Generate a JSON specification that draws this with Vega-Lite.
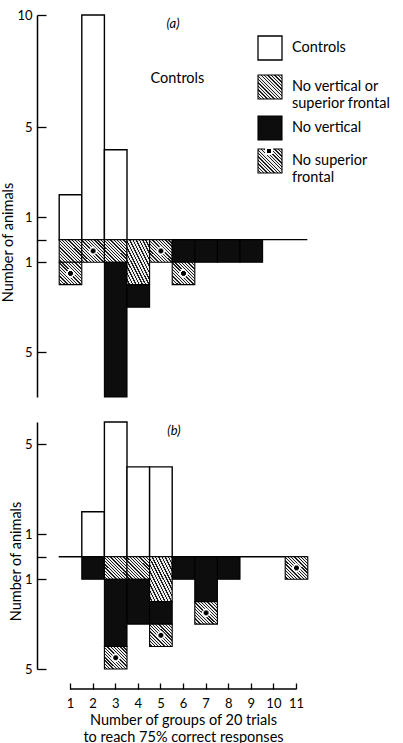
{
  "$schema": "https://vega.github.io/schema/vega-lite/v6.json",
  "padding": {"left": 0, "top": 9, "right": 0, "bottom": 0},
  "config": {
    "font": "Lato",
    "view": {"stroke": null},
    "axis": {"grid": false, "domainColor": "black", "domainWidth": 1.5, "tickColor": "black", "tickWidth": 1.3, "labelColor": "black", "labelFont": "Lato", "labelFontSize": 13, "titleFont": "Lato", "titleFontSize": 14.5, "titleFontWeight": "normal", "titleColor": "black"},
    "legend": {"labelFont": "Lato", "labelColor": "black"}
  },
  "datasets": {
    "counts": [
      {"panel": "a", "group": "Controls", "trials": 1, "animals": 2},
      {"panel": "a", "group": "Controls", "trials": 2, "animals": 10},
      {"panel": "a", "group": "Controls", "trials": 3, "animals": 4},
      {"panel": "a", "group": "No vertical or superior frontal", "trials": 1, "animals": 1},
      {"panel": "a", "group": "No superior frontal", "trials": 1, "animals": 1},
      {"panel": "a", "group": "No superior frontal", "trials": 2, "animals": 1},
      {"panel": "a", "group": "No vertical or superior frontal", "trials": 3, "animals": 1},
      {"panel": "a", "group": "No vertical", "trials": 3, "animals": 6},
      {"panel": "a", "group": "No vertical or superior frontal", "trials": 4, "animals": 2},
      {"panel": "a", "group": "No vertical", "trials": 4, "animals": 1},
      {"panel": "a", "group": "No superior frontal", "trials": 5, "animals": 1},
      {"panel": "a", "group": "No vertical", "trials": 6, "animals": 1},
      {"panel": "a", "group": "No superior frontal", "trials": 6, "animals": 1},
      {"panel": "a", "group": "No vertical", "trials": 7, "animals": 1},
      {"panel": "a", "group": "No vertical", "trials": 8, "animals": 1},
      {"panel": "a", "group": "No vertical", "trials": 9, "animals": 1},
      {"panel": "b", "group": "Controls", "trials": 2, "animals": 2},
      {"panel": "b", "group": "Controls", "trials": 3, "animals": 6},
      {"panel": "b", "group": "Controls", "trials": 4, "animals": 4},
      {"panel": "b", "group": "Controls", "trials": 5, "animals": 4},
      {"panel": "b", "group": "No vertical", "trials": 2, "animals": 1},
      {"panel": "b", "group": "No vertical or superior frontal", "trials": 3, "animals": 1},
      {"panel": "b", "group": "No vertical", "trials": 3, "animals": 3},
      {"panel": "b", "group": "No superior frontal", "trials": 3, "animals": 1},
      {"panel": "b", "group": "No vertical or superior frontal", "trials": 4, "animals": 1},
      {"panel": "b", "group": "No vertical", "trials": 4, "animals": 2},
      {"panel": "b", "group": "No vertical or superior frontal", "trials": 5, "animals": 2},
      {"panel": "b", "group": "No vertical", "trials": 5, "animals": 1},
      {"panel": "b", "group": "No superior frontal", "trials": 5, "animals": 1},
      {"panel": "b", "group": "No vertical", "trials": 6, "animals": 1},
      {"panel": "b", "group": "No vertical", "trials": 7, "animals": 2},
      {"panel": "b", "group": "No superior frontal", "trials": 7, "animals": 1},
      {"panel": "b", "group": "No vertical", "trials": 8, "animals": 1},
      {"panel": "b", "group": "No superior frontal", "trials": 11, "animals": 1}
    ]
  },
  "data": {"name": "counts"},
  "spacing": 23,
  "resolve": {"scale": {"fill": "independent"}, "legend": {"fill": "independent"}},
  "vconcat": [
    {
      "width": 226,
      "height": 382,
      "resolve": {"scale": {"y": "independent", "fill": "independent"}, "legend": {"fill": "independent"}},
      "layer": [
        {
          "layer": [
            {
              "transform": [{"filter": "datum.panel == 'a' && datum.group == 'Controls'"}],
              "mark": {"type": "bar", "stroke": "black", "strokeWidth": 1.4, "binSpacing": 0, "clip": false},
              "encoding": {
                "x": {"field": "trials", "type": "quantitative", "bin": {"step": 1, "extent": [0.5, 11.5], "nice": false, "anchor": 0.5}, "scale": {"domain": [1, 11], "nice": false, "zero": false}, "axis": null},
                "y": {"field": "animals", "type": "quantitative", "scale": {"domain": [-7, 10], "nice": false, "zero": false},
                  "axis": {"values": [10, 5, 1, 0, -1, -5], "labelExpr": "datum.value == 0 ? '' : '' + abs(datum.value)", "tickSize": -9, "labelPadding": 14, "offset": 33, "title": "Number of animals", "titleY": 227, "titlePadding": 1}},
                "fill": {"field": "group", "type": "nominal", "scale": {"domain": ["Controls"], "range": ["white"]},
                  "legend": {"orient": "none", "legendX": 187, "legendY": 20, "title": null, "symbolType": "square", "symbolSize": 576, "symbolStrokeColor": "black", "symbolStrokeWidth": 1.3, "labelFontSize": 14.5, "labelOffset": 9, "padding": 0}}
              }
            },
            {
              "data": {"values": [{}]},
              "mark": {"type": "rule", "stroke": "black", "strokeWidth": 1.3},
              "encoding": {
                "x": {"datum": 0.5, "type": "quantitative", "scale": {"domain": [1, 11]}, "axis": null},
                "x2": {"datum": 11.5},
                "y": {"datum": 0, "type": "quantitative", "scale": {"domain": [-7, 10]}}
              }
            },
            {
              "data": {"values": [{}]},
              "mark": {"type": "text", "fontSize": 14.5, "font": "Lato", "color": "black"},
              "encoding": {
                "x": {"datum": 5.75, "type": "quantitative", "scale": {"domain": [1, 11]}, "axis": null},
                "y": {"datum": 7.15, "type": "quantitative", "scale": {"domain": [-7, 10]}},
                "text": {"value": "Controls"}
              }
            },
            {
              "data": {"values": [{}]},
              "mark": {"type": "text", "fontSize": 13, "font": "Lato", "fontStyle": "italic", "color": "black"},
              "encoding": {
                "x": {"datum": 5.56, "type": "quantitative", "scale": {"domain": [1, 11]}, "axis": null},
                "y": {"datum": 9.6, "type": "quantitative", "scale": {"domain": [-7, 10]}},
                "text": {"value": "(a)"}
              }
            }
          ]
        },
        {
          "resolve": {"scale": {"fill": "independent"}, "legend": {"fill": "independent"}},
          "transform": [
            {"filter": "datum.panel == 'a' && datum.group != 'Controls'"},
            {"stack": "animals", "groupby": ["trials"], "sort": [{"field": "group", "order": "descending"}], "as": ["lo", "hi"]}
          ],
          "layer": [
            {
              "mark": {"type": "bar", "stroke": "black", "strokeWidth": 1.1, "binSpacing": 0, "clip": false},
              "encoding": {
                "x": {"field": "trials", "type": "quantitative", "bin": {"step": 1, "extent": [0.5, 11.5], "nice": false, "anchor": 0.5}, "scale": {"domain": [1, 11], "nice": false, "zero": false}, "axis": null},
                "y": {"field": "lo", "type": "quantitative", "scale": {"domain": [-10, 7], "reverse": true, "nice": false, "zero": false}, "axis": null},
                "y2": {"field": "hi"},
                "fill": {"field": "group", "type": "nominal",
                  "scale": {"domain": ["No vertical or superior frontal", "No vertical", "No superior frontal"],
                    "range": [
                      {"expr": "{gradient: 'linear', x1: 0, y1: 1, x2: 1, y2: 0, stops: [{offset: 0, color: '#ececec'}, {offset: 0.0429, color: '#ececec'}, {offset: 0.0429, color: '#1e1e1e'}, {offset: 0.0714, color: '#1e1e1e'}, {offset: 0.0714, color: '#ececec'}, {offset: 0.1143, color: '#ececec'}, {offset: 0.1143, color: '#1e1e1e'}, {offset: 0.1429, color: '#1e1e1e'}, {offset: 0.1429, color: '#ececec'}, {offset: 0.1857, color: '#ececec'}, {offset: 0.1857, color: '#1e1e1e'}, {offset: 0.2143, color: '#1e1e1e'}, {offset: 0.2143, color: '#ececec'}, {offset: 0.2571, color: '#ececec'}, {offset: 0.2571, color: '#1e1e1e'}, {offset: 0.2857, color: '#1e1e1e'}, {offset: 0.2857, color: '#ececec'}, {offset: 0.3286, color: '#ececec'}, {offset: 0.3286, color: '#1e1e1e'}, {offset: 0.3571, color: '#1e1e1e'}, {offset: 0.3571, color: '#ececec'}, {offset: 0.4, color: '#ececec'}, {offset: 0.4, color: '#1e1e1e'}, {offset: 0.4286, color: '#1e1e1e'}, {offset: 0.4286, color: '#ececec'}, {offset: 0.4714, color: '#ececec'}, {offset: 0.4714, color: '#1e1e1e'}, {offset: 0.5, color: '#1e1e1e'}, {offset: 0.5, color: '#ececec'}, {offset: 0.5429, color: '#ececec'}, {offset: 0.5429, color: '#1e1e1e'}, {offset: 0.5714, color: '#1e1e1e'}, {offset: 0.5714, color: '#ececec'}, {offset: 0.6143, color: '#ececec'}, {offset: 0.6143, color: '#1e1e1e'}, {offset: 0.6429, color: '#1e1e1e'}, {offset: 0.6429, color: '#ececec'}, {offset: 0.6857, color: '#ececec'}, {offset: 0.6857, color: '#1e1e1e'}, {offset: 0.7143, color: '#1e1e1e'}, {offset: 0.7143, color: '#ececec'}, {offset: 0.7571, color: '#ececec'}, {offset: 0.7571, color: '#1e1e1e'}, {offset: 0.7857, color: '#1e1e1e'}, {offset: 0.7857, color: '#ececec'}, {offset: 0.8286, color: '#ececec'}, {offset: 0.8286, color: '#1e1e1e'}, {offset: 0.8571, color: '#1e1e1e'}, {offset: 0.8571, color: '#ececec'}, {offset: 0.9, color: '#ececec'}, {offset: 0.9, color: '#1e1e1e'}, {offset: 0.9286, color: '#1e1e1e'}, {offset: 0.9286, color: '#ececec'}, {offset: 0.9714, color: '#ececec'}, {offset: 0.9714, color: '#1e1e1e'}, {offset: 1, color: '#1e1e1e'}]}"},
                      "#0d0d0d",
                      {"expr": "{gradient: 'linear', x1: 0, y1: 1, x2: 1, y2: 0, stops: [{offset: 0, color: '#ececec'}, {offset: 0.0429, color: '#ececec'}, {offset: 0.0429, color: '#1e1e1e'}, {offset: 0.0714, color: '#1e1e1e'}, {offset: 0.0714, color: '#ececec'}, {offset: 0.1143, color: '#ececec'}, {offset: 0.1143, color: '#1e1e1e'}, {offset: 0.1429, color: '#1e1e1e'}, {offset: 0.1429, color: '#ececec'}, {offset: 0.1857, color: '#ececec'}, {offset: 0.1857, color: '#1e1e1e'}, {offset: 0.2143, color: '#1e1e1e'}, {offset: 0.2143, color: '#ececec'}, {offset: 0.2571, color: '#ececec'}, {offset: 0.2571, color: '#1e1e1e'}, {offset: 0.2857, color: '#1e1e1e'}, {offset: 0.2857, color: '#ececec'}, {offset: 0.3286, color: '#ececec'}, {offset: 0.3286, color: '#1e1e1e'}, {offset: 0.3571, color: '#1e1e1e'}, {offset: 0.3571, color: '#ececec'}, {offset: 0.4, color: '#ececec'}, {offset: 0.4, color: '#1e1e1e'}, {offset: 0.4286, color: '#1e1e1e'}, {offset: 0.4286, color: '#ececec'}, {offset: 0.4714, color: '#ececec'}, {offset: 0.4714, color: '#1e1e1e'}, {offset: 0.5, color: '#1e1e1e'}, {offset: 0.5, color: '#ececec'}, {offset: 0.5429, color: '#ececec'}, {offset: 0.5429, color: '#1e1e1e'}, {offset: 0.5714, color: '#1e1e1e'}, {offset: 0.5714, color: '#ececec'}, {offset: 0.6143, color: '#ececec'}, {offset: 0.6143, color: '#1e1e1e'}, {offset: 0.6429, color: '#1e1e1e'}, {offset: 0.6429, color: '#ececec'}, {offset: 0.6857, color: '#ececec'}, {offset: 0.6857, color: '#1e1e1e'}, {offset: 0.7143, color: '#1e1e1e'}, {offset: 0.7143, color: '#ececec'}, {offset: 0.7571, color: '#ececec'}, {offset: 0.7571, color: '#1e1e1e'}, {offset: 0.7857, color: '#1e1e1e'}, {offset: 0.7857, color: '#ececec'}, {offset: 0.8286, color: '#ececec'}, {offset: 0.8286, color: '#1e1e1e'}, {offset: 0.8571, color: '#1e1e1e'}, {offset: 0.8571, color: '#ececec'}, {offset: 0.9, color: '#ececec'}, {offset: 0.9, color: '#1e1e1e'}, {offset: 0.9286, color: '#1e1e1e'}, {offset: 0.9286, color: '#ececec'}, {offset: 0.9714, color: '#ececec'}, {offset: 0.9714, color: '#1e1e1e'}, {offset: 1, color: '#1e1e1e'}]}"}
                    ]},
                  "legend": {"orient": "none", "legendX": 187, "legendY": 59, "title": null, "symbolType": "square", "symbolSize": 576, "symbolStrokeColor": "black", "symbolStrokeWidth": 1.1, "labelFontSize": 14.5, "labelOffset": 9, "padding": 0, "rowPadding": 3,
                    "labelExpr": "datum.label == 'No vertical or superior frontal' ? ['No vertical or', 'superior frontal'] : datum.label == 'No superior frontal' ? ['No superior', '\u2002\u2002\u2002frontal'] : datum.label"}
                }
              }
            },
            {
              "transform": [{"filter": "datum.group == 'No superior frontal'"}],
              "mark": {"type": "bar", "strokeWidth": 0, "binSpacing": 0, "clip": false},
              "encoding": {
                "x": {"field": "trials", "type": "quantitative", "bin": {"step": 1, "extent": [0.5, 11.5], "nice": false, "anchor": 0.5}, "scale": {"domain": [1, 11], "nice": false, "zero": false}, "axis": null},
                "y": {"field": "lo", "type": "quantitative", "scale": {"domain": [-10, 7], "reverse": true, "nice": false, "zero": false}, "axis": null},
                "y2": {"field": "hi"},
                "fill": {"field": "group", "type": "nominal",
                  "scale": {"domain": ["No vertical or superior frontal", "No vertical", "No superior frontal"],
                    "range": ["rgba(0,0,0,0)", "rgba(0,0,0,0)",
                      {"expr": "{gradient: 'radial', x1: 0.5, y1: 0.5, r1: 0, x2: 0.5, y2: 0.5, r2: 0.5, stops: [{offset: 0, color: '#000'}, {offset: 0.2, color: '#000'}, {offset: 0.2, color: '#fff'}, {offset: 0.36, color: '#fff'}, {offset: 0.36, color: 'rgba(255,255,255,0)'}, {offset: 1, color: 'rgba(255,255,255,0)'}]}"}
                    ]},
                  "legend": {"orient": "none", "legendX": 187, "legendY": 59, "title": null, "symbolType": "square", "symbolSize": 576, "symbolStrokeColor": "rgba(0,0,0,0)", "symbolStrokeWidth": 0, "labelFontSize": 14.5, "labelOffset": 9, "padding": 0, "rowPadding": 3, "labelColor": "rgba(0,0,0,0)",
                    "labelExpr": "datum.label == 'No vertical or superior frontal' || datum.label == 'No superior frontal' ? ['\u00a0', '\u00a0'] : '\u00a0'"}
                }
              }
            }
          ]
        }
      ]
    },
    {
      "width": 226,
      "height": 247,
      "resolve": {"scale": {"y": "independent", "fill": "independent"}, "legend": {"fill": "independent"}},
      "layer": [
        {
          "layer": [
            {
              "transform": [{"filter": "datum.panel == 'b' && datum.group == 'Controls'"}],
              "mark": {"type": "bar", "stroke": "black", "strokeWidth": 1.4, "binSpacing": 0, "clip": false, "fill": "white"},
              "encoding": {
                "x": {"field": "trials", "type": "quantitative", "bin": {"step": 1, "extent": [0.5, 11.5], "nice": false, "anchor": 0.5}, "scale": {"domain": [1, 11], "nice": false, "zero": false},
                  "axis": {"values": [1, 2, 3, 4, 5, 6, 7, 8, 9, 10, 11], "labelExpr": "'' + datum.value", "domain": false, "tickSize": -6, "labelPadding": 14, "offset": 20, "labelFlush": false, "labelOverlap": false, "title": ["Number of groups of 20 trials", "to reach 75% correct responses"], "titleLineHeight": 17, "titlePadding": 3}},
                "y": {"field": "animals", "type": "quantitative", "scale": {"domain": [-5, 6], "nice": false, "zero": false},
                  "axis": {"values": [5, 1, 0, -1, -5], "labelExpr": "datum.value == 0 ? '' : '' + abs(datum.value)", "tickSize": -9, "labelPadding": 14, "offset": 33, "title": "Number of animals", "titleY": 139, "titlePadding": 1}}
              }
            },
            {
              "data": {"values": [{}]},
              "mark": {"type": "rule", "stroke": "black", "strokeWidth": 1.3},
              "encoding": {
                "x": {"datum": 0.5, "type": "quantitative", "scale": {"domain": [1, 11]}},
                "x2": {"datum": 11.5},
                "y": {"datum": 0, "type": "quantitative", "scale": {"domain": [-5, 6]}}
              }
            },
            {
              "data": {"values": [{}]},
              "mark": {"type": "rule", "stroke": "black", "strokeWidth": 1.5, "clip": false},
              "encoding": {
                "x": {"datum": 1, "type": "quantitative", "scale": {"domain": [1, 11]}},
                "x2": {"datum": 11},
                "y": {"datum": -5.89, "type": "quantitative", "scale": {"domain": [-5, 6]}}
              }
            },
            {
              "data": {"values": [{}]},
              "mark": {"type": "text", "fontSize": 13, "font": "Lato", "fontStyle": "italic", "color": "black"},
              "encoding": {
                "x": {"datum": 5.6, "type": "quantitative", "scale": {"domain": [1, 11]}},
                "y": {"datum": 5.6, "type": "quantitative", "scale": {"domain": [-5, 6]}},
                "text": {"value": "(b)"}
              }
            }
          ]
        },
        {
          "resolve": {"scale": {"fill": "independent"}, "legend": {"fill": "independent"}},
          "transform": [
            {"filter": "datum.panel == 'b' && datum.group != 'Controls'"},
            {"stack": "animals", "groupby": ["trials"], "sort": [{"field": "group", "order": "descending"}], "as": ["lo", "hi"]}
          ],
          "layer": [
            {
              "mark": {"type": "bar", "stroke": "black", "strokeWidth": 1.1, "binSpacing": 0, "clip": false},
              "encoding": {
                "x": {"field": "trials", "type": "quantitative", "bin": {"step": 1, "extent": [0.5, 11.5], "nice": false, "anchor": 0.5}, "scale": {"domain": [1, 11], "nice": false, "zero": false}},
                "y": {"field": "lo", "type": "quantitative", "scale": {"domain": [-6, 5], "reverse": true, "nice": false, "zero": false}, "axis": null},
                "y2": {"field": "hi"},
                "fill": {"field": "group", "type": "nominal",
                  "scale": {"domain": ["No vertical or superior frontal", "No vertical", "No superior frontal"],
                    "range": [
                      {"expr": "{gradient: 'linear', x1: 0, y1: 1, x2: 1, y2: 0, stops: [{offset: 0, color: '#ececec'}, {offset: 0.0429, color: '#ececec'}, {offset: 0.0429, color: '#1e1e1e'}, {offset: 0.0714, color: '#1e1e1e'}, {offset: 0.0714, color: '#ececec'}, {offset: 0.1143, color: '#ececec'}, {offset: 0.1143, color: '#1e1e1e'}, {offset: 0.1429, color: '#1e1e1e'}, {offset: 0.1429, color: '#ececec'}, {offset: 0.1857, color: '#ececec'}, {offset: 0.1857, color: '#1e1e1e'}, {offset: 0.2143, color: '#1e1e1e'}, {offset: 0.2143, color: '#ececec'}, {offset: 0.2571, color: '#ececec'}, {offset: 0.2571, color: '#1e1e1e'}, {offset: 0.2857, color: '#1e1e1e'}, {offset: 0.2857, color: '#ececec'}, {offset: 0.3286, color: '#ececec'}, {offset: 0.3286, color: '#1e1e1e'}, {offset: 0.3571, color: '#1e1e1e'}, {offset: 0.3571, color: '#ececec'}, {offset: 0.4, color: '#ececec'}, {offset: 0.4, color: '#1e1e1e'}, {offset: 0.4286, color: '#1e1e1e'}, {offset: 0.4286, color: '#ececec'}, {offset: 0.4714, color: '#ececec'}, {offset: 0.4714, color: '#1e1e1e'}, {offset: 0.5, color: '#1e1e1e'}, {offset: 0.5, color: '#ececec'}, {offset: 0.5429, color: '#ececec'}, {offset: 0.5429, color: '#1e1e1e'}, {offset: 0.5714, color: '#1e1e1e'}, {offset: 0.5714, color: '#ececec'}, {offset: 0.6143, color: '#ececec'}, {offset: 0.6143, color: '#1e1e1e'}, {offset: 0.6429, color: '#1e1e1e'}, {offset: 0.6429, color: '#ececec'}, {offset: 0.6857, color: '#ececec'}, {offset: 0.6857, color: '#1e1e1e'}, {offset: 0.7143, color: '#1e1e1e'}, {offset: 0.7143, color: '#ececec'}, {offset: 0.7571, color: '#ececec'}, {offset: 0.7571, color: '#1e1e1e'}, {offset: 0.7857, color: '#1e1e1e'}, {offset: 0.7857, color: '#ececec'}, {offset: 0.8286, color: '#ececec'}, {offset: 0.8286, color: '#1e1e1e'}, {offset: 0.8571, color: '#1e1e1e'}, {offset: 0.8571, color: '#ececec'}, {offset: 0.9, color: '#ececec'}, {offset: 0.9, color: '#1e1e1e'}, {offset: 0.9286, color: '#1e1e1e'}, {offset: 0.9286, color: '#ececec'}, {offset: 0.9714, color: '#ececec'}, {offset: 0.9714, color: '#1e1e1e'}, {offset: 1, color: '#1e1e1e'}]}"},
                      "#0d0d0d",
                      {"expr": "{gradient: 'linear', x1: 0, y1: 1, x2: 1, y2: 0, stops: [{offset: 0, color: '#ececec'}, {offset: 0.0429, color: '#ececec'}, {offset: 0.0429, color: '#1e1e1e'}, {offset: 0.0714, color: '#1e1e1e'}, {offset: 0.0714, color: '#ececec'}, {offset: 0.1143, color: '#ececec'}, {offset: 0.1143, color: '#1e1e1e'}, {offset: 0.1429, color: '#1e1e1e'}, {offset: 0.1429, color: '#ececec'}, {offset: 0.1857, color: '#ececec'}, {offset: 0.1857, color: '#1e1e1e'}, {offset: 0.2143, color: '#1e1e1e'}, {offset: 0.2143, color: '#ececec'}, {offset: 0.2571, color: '#ececec'}, {offset: 0.2571, color: '#1e1e1e'}, {offset: 0.2857, color: '#1e1e1e'}, {offset: 0.2857, color: '#ececec'}, {offset: 0.3286, color: '#ececec'}, {offset: 0.3286, color: '#1e1e1e'}, {offset: 0.3571, color: '#1e1e1e'}, {offset: 0.3571, color: '#ececec'}, {offset: 0.4, color: '#ececec'}, {offset: 0.4, color: '#1e1e1e'}, {offset: 0.4286, color: '#1e1e1e'}, {offset: 0.4286, color: '#ececec'}, {offset: 0.4714, color: '#ececec'}, {offset: 0.4714, color: '#1e1e1e'}, {offset: 0.5, color: '#1e1e1e'}, {offset: 0.5, color: '#ececec'}, {offset: 0.5429, color: '#ececec'}, {offset: 0.5429, color: '#1e1e1e'}, {offset: 0.5714, color: '#1e1e1e'}, {offset: 0.5714, color: '#ececec'}, {offset: 0.6143, color: '#ececec'}, {offset: 0.6143, color: '#1e1e1e'}, {offset: 0.6429, color: '#1e1e1e'}, {offset: 0.6429, color: '#ececec'}, {offset: 0.6857, color: '#ececec'}, {offset: 0.6857, color: '#1e1e1e'}, {offset: 0.7143, color: '#1e1e1e'}, {offset: 0.7143, color: '#ececec'}, {offset: 0.7571, color: '#ececec'}, {offset: 0.7571, color: '#1e1e1e'}, {offset: 0.7857, color: '#1e1e1e'}, {offset: 0.7857, color: '#ececec'}, {offset: 0.8286, color: '#ececec'}, {offset: 0.8286, color: '#1e1e1e'}, {offset: 0.8571, color: '#1e1e1e'}, {offset: 0.8571, color: '#ececec'}, {offset: 0.9, color: '#ececec'}, {offset: 0.9, color: '#1e1e1e'}, {offset: 0.9286, color: '#1e1e1e'}, {offset: 0.9286, color: '#ececec'}, {offset: 0.9714, color: '#ececec'}, {offset: 0.9714, color: '#1e1e1e'}, {offset: 1, color: '#1e1e1e'}]}"}
                    ]},
                  "legend": null}
              }
            },
            {
              "transform": [{"filter": "datum.group == 'No superior frontal'"}],
              "mark": {"type": "bar", "strokeWidth": 0, "binSpacing": 0, "clip": false},
              "encoding": {
                "x": {"field": "trials", "type": "quantitative", "bin": {"step": 1, "extent": [0.5, 11.5], "nice": false, "anchor": 0.5}, "scale": {"domain": [1, 11], "nice": false, "zero": false}},
                "y": {"field": "lo", "type": "quantitative", "scale": {"domain": [-6, 5], "reverse": true, "nice": false, "zero": false}, "axis": null},
                "y2": {"field": "hi"},
                "fill": {"field": "group", "type": "nominal",
                  "scale": {"domain": ["No vertical or superior frontal", "No vertical", "No superior frontal"],
                    "range": ["rgba(0,0,0,0)", "rgba(0,0,0,0)",
                      {"expr": "{gradient: 'radial', x1: 0.5, y1: 0.5, r1: 0, x2: 0.5, y2: 0.5, r2: 0.5, stops: [{offset: 0, color: '#000'}, {offset: 0.2, color: '#000'}, {offset: 0.2, color: '#fff'}, {offset: 0.36, color: '#fff'}, {offset: 0.36, color: 'rgba(255,255,255,0)'}, {offset: 1, color: 'rgba(255,255,255,0)'}]}"}
                    ]},
                  "legend": null}
              }
            }
          ]
        }
      ]
    }
  ]
}
